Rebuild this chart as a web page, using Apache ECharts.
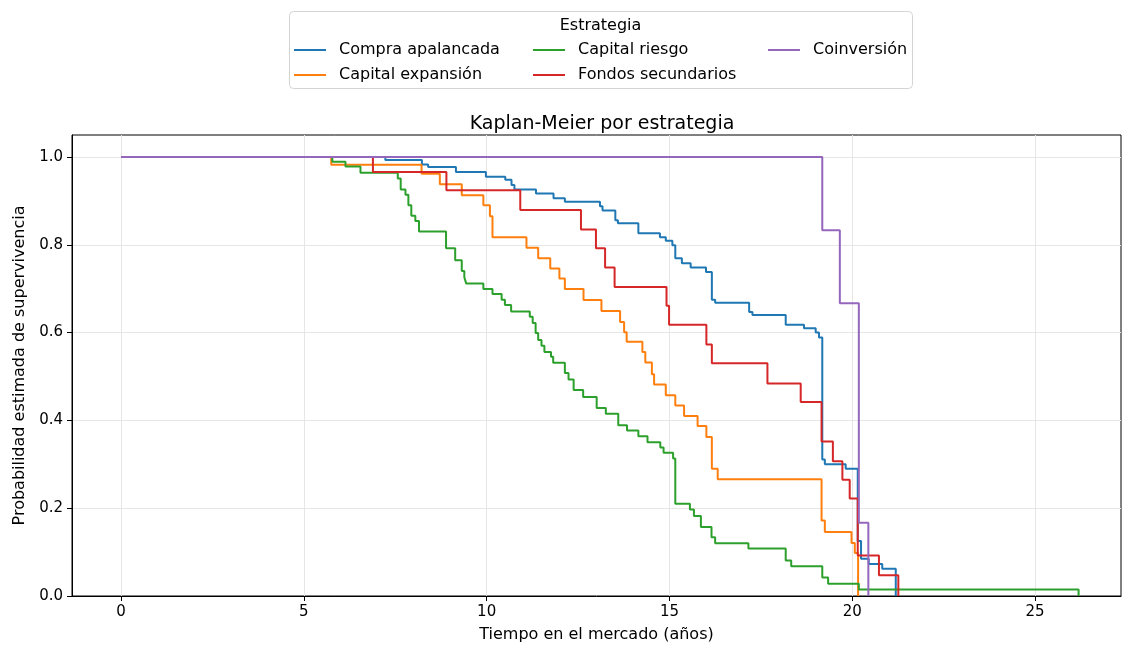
<!DOCTYPE html>
<html>
<head>
<meta charset="utf-8">
<script src="https://cdn.jsdelivr.net/npm/echarts@6/dist/echarts.min.js"></script>
<style>html,body{margin:0;padding:0;background:#fff;}#c{width:1123px;height:646px;}</style>
</head>
<body>
<div id="c"></div>
<script>
// Kaplan-Meier step points [time (years), survival]
const seriesNames = ['Compra apalancada', 'Capital expansión', 'Capital riesgo', 'Fondos secundarios', 'Coinversión'];
const xTicks = [0, 5, 10, 15, 20, 25];
const yTicks = [0, 0.2, 0.4, 0.6, 0.8, 1.0];

const compraApalancada = [
  [0,1],[7.23,0.993],[8.23,0.983],[8.40,0.977],[9.16,0.966],[9.98,0.955],[10.51,0.948],[10.68,0.936],
  [10.76,0.926],[11.35,0.917],[11.83,0.906],[12.14,0.898],[13.10,0.888],[13.17,0.878],[13.52,0.856],
  [13.59,0.849],[14.15,0.826],[14.74,0.817],[14.90,0.809],[15.08,0.799],[15.16,0.769],[15.34,0.758],
  [15.58,0.748],[16.00,0.738],[16.16,0.675],[16.25,0.668],[17.18,0.647],[17.27,0.640],[18.18,0.618],
  [18.68,0.610],[19.00,0.600],[19.09,0.589],[19.18,0.311],[19.25,0.300],[19.82,0.290],[20.15,0.125],
  [20.24,0.085],[20.45,0.073],[20.82,0.062],[21.19,0]
];
const capitalExpansion = [
  [0,1],[5.75,0.982],[8.22,0.962],[8.72,0.938],[9.32,0.913],[9.91,0.890],[10.09,0.865],[10.16,0.817],
  [11.09,0.793],[11.41,0.769],[11.74,0.746],[11.99,0.723],[12.14,0.699],[12.65,0.674],[13.14,0.649],
  [13.65,0.624],[13.76,0.601],[13.83,0.579],[14.26,0.556],[14.34,0.532],[14.52,0.505],[14.58,0.482],
  [14.90,0.457],[15.16,0.434],[15.40,0.410],[15.77,0.387],[16.01,0.362],[16.16,0.290],[16.32,0.266],
  [19.16,0.172],[19.25,0.146],[19.98,0.121],[20.07,0.098],[20.16,0]
];
const capitalRiesgo = [
  [0,1],[5.78,0.989],[6.14,0.978],[6.55,0.964],[7.57,0.951],[7.65,0.926],[7.78,0.914],[7.86,0.890],
  [7.94,0.866],[8.05,0.854],[8.15,0.830],[8.89,0.792],[9.14,0.765],[9.32,0.740],[9.39,0.726],[9.44,0.712],
  [9.91,0.699],[10.16,0.688],[10.41,0.675],[10.50,0.663],[10.67,0.648],[11.18,0.636],[11.26,0.622],
  [11.34,0.599],[11.41,0.583],[11.50,0.570],[11.58,0.556],[11.76,0.545],[11.82,0.531],[12.14,0.508],
  [12.24,0.493],[12.38,0.469],[12.64,0.453],[13.01,0.428],[13.26,0.415],[13.60,0.389],[13.84,0.377],
  [14.15,0.364],[14.40,0.350],[14.75,0.338],[14.84,0.326],[15.10,0.313],[15.16,0.210],[15.56,0.197],
  [15.67,0.182],[15.86,0.157],[16.15,0.134],[16.25,0.120],[17.16,0.108],[18.18,0.081],[18.33,0.068],
  [19.18,0.042],[19.34,0.028],[20.18,0.015],[26.19,0]
];
const fondosSecundarios = [
  [0,1],[6.89,0.966],[8.90,0.924],[10.92,0.879],[12.58,0.835],[12.99,0.792],[13.24,0.748],[13.50,0.704],
  [14.92,0.661],[14.99,0.618],[16.01,0.573],[16.16,0.530],[17.68,0.484],[18.59,0.442],[19.16,0.352],
  [19.47,0.307],[19.73,0.265],[19.93,0.222],[20.15,0.092],[20.73,0.047],[21.26,0]
];
const coinversion = [
  [0,1],[19.18,0.833],[19.66,0.667],[20.18,0.167],[20.44,0]
];

const seriesData = [compraApalancada, capitalExpansion, capitalRiesgo, fondosSecundarios, coinversion];
const colors = ['#1f77b4', '#ff7f0e', '#2ca02c', '#d62728', '#9467bd'];
const FONT = 'DejaVu Sans';

const chart = echarts.init(document.getElementById('c'), null, {renderer: 'canvas'});

const legendBase = {
  orient: 'vertical', top: 42, itemWidth: 32, itemHeight: 2, icon: 'rect', itemGap: 9,
  textStyle: {fontFamily: FONT, fontSize: 16, color: '#000', lineHeight: 16, padding: [0, 0, 0, 8]},
  selectedMode: false, padding: 0
};

const option = {
  animation: false,
  color: colors,
  title: {
    text: 'Kaplan-Meier por estrategia', left: 597, top: 110, textAlign: 'center',
    textStyle: {fontFamily: FONT, fontSize: 19, fontWeight: 'normal', color: '#000'}
  },
  graphic: [
    {type: 'rect', shape: {x: 289.5, y: 11.5, width: 623, height: 77, r: 4},
     style: {fill: 'rgba(255,255,255,0.8)', stroke: '#d4d4d4', lineWidth: 1}, z: 0},
    {type: 'text', x: 600.5, y: 26, style: {text: 'Estrategia', fontFamily: FONT, fontSize: 16, fill: '#000',
     textAlign: 'center', textVerticalAlign: 'middle'}, z: 1}
  ],
  legend: [
    Object.assign({}, legendBase, {left: 294, data: [seriesNames[0], seriesNames[1]]}),
    Object.assign({}, legendBase, {left: 533, data: [seriesNames[2], seriesNames[3]]}),
    Object.assign({}, legendBase, {left: 768, data: [seriesNames[4]]})
  ],
  grid: {left: 72, right: 2, top: 135, bottom: 50, show: true, borderColor: '#000', borderWidth: 1,
    backgroundColor: 'transparent', containLabel: false, outerBoundsMode: 'none'},
  xAxis: {
    type: 'value', min: -1.34, max: 27.35,
    name: 'Tiempo en el mercado (años)', nameLocation: 'middle', nameGap: 31,
    nameTextStyle: {fontFamily: FONT, fontSize: 16, color: '#000'},
    axisLine: {show: true, onZero: false, lineStyle: {color: '#000', width: 1}},
    axisTick: {show: true, length: 5, customValues: xTicks, lineStyle: {color: '#000'}},
    axisLabel: {customValues: xTicks, margin: 9, fontFamily: FONT, fontSize: 15, color: '#000'},
    splitLine: {show: true, customValues: xTicks, lineStyle: {color: '#e6e6e6', width: 1}}
  },
  yAxis: {
    type: 'value', min: 0, max: 1.05,
    name: 'Probabilidad estimada de supervivencia', nameLocation: 'middle', nameGap: 44, nameRotate: 90,
    nameTextStyle: {fontFamily: FONT, fontSize: 16, color: '#000'},
    axisLine: {show: true, onZero: false, lineStyle: {color: '#000', width: 1}},
    axisTick: {show: true, length: 5, customValues: yTicks, lineStyle: {color: '#000'}},
    axisLabel: {customValues: yTicks, margin: 9, fontFamily: FONT, fontSize: 15, color: '#000',
      formatter: v => v.toFixed(1)},
    splitLine: {show: true, customValues: yTicks, lineStyle: {color: '#e6e6e6', width: 1}}
  },
  series: seriesNames.map((name, i) => ({
    name: name, type: 'line', step: 'end', data: seriesData[i],
    showSymbol: false, symbol: 'none', lineStyle: {width: 2, color: colors[i]},
    itemStyle: {color: colors[i]}, z: 2 + i
  }))
};
chart.setOption(option);
</script>
</body>
</html>
